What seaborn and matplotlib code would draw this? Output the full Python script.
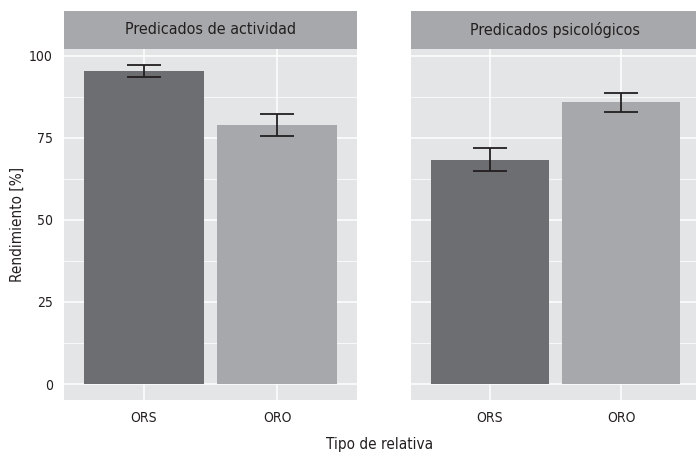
import numpy as np
import pandas as pd
import matplotlib
matplotlib.use("Agg")
import matplotlib.pyplot as plt
import seaborn as sns
from matplotlib.patches import Rectangle
from matplotlib import font_manager

panels = ["Predicados de actividad", "Predicados psicológicos"]
categories = ["ORS", "ORO"]
means_actividad = [95.3, 78.8]
low_actividad = [93.4, 75.5]
high_actividad = [97.2, 82.3]
means_psico = [68.4, 85.9]
low_psico = [64.8, 83.0]
high_psico = [72.0, 88.8]
y_ticks = [0, 25, 50, 75, 100]

bar_colors = ["#6d6e71", "#a7a8ab"]
panel_bg = "#e4e5e6"
strip_bg = "#a7a8ab"
ink = "#231f20"

sns.set_theme(style="darkgrid")

# look for a condensed face (the original uses a narrow font)
cands = [f for f in font_manager.fontManager.ttflist
         if ("narrow" in f.name.lower() or "condensed" in f.name.lower()
             or f.stretch in ("condensed", "semi-condensed", "extra-condensed"))
         and f.style == "normal" and f.weight in (400, "normal", "regular")]
stretch = "normal"
if cands:
    fam = cands[0].name
    stretch = cands[0].stretch
else:
    fam = "DejaVu Sans"
plt.rcParams["font.family"] = [fam, "DejaVu Sans"]
plt.rcParams["font.stretch"] = stretch
fp = dict(family=[fam, "DejaVu Sans"], stretch=stretch)

fig = plt.figure(figsize=(6.96, 4.57), dpi=100)
ax_pos = [[64 / 696, 1 - 400 / 457, 293 / 696, 351 / 457],
          [411 / 696, 1 - 400 / 457, 289 / 696, 351 / 457]]
strip_h = 38 / 351

data = [(means_actividad, low_actividad, high_actividad),
        (means_psico, low_psico, high_psico)]

for i, (title, (m, lo, hi)) in enumerate(zip(panels, data)):
    ax = fig.add_axes(ax_pos[i])
    df = pd.DataFrame({"tipo": categories, "valor": m})
    sns.barplot(data=df, x="tipo", y="valor", hue="tipo", palette=bar_colors,
                order=categories, width=0.9, legend=False, ax=ax,
                saturation=1, linewidth=0, zorder=2)
    xs = np.arange(len(categories))
    m = np.array(m); lo = np.array(lo); hi = np.array(hi)
    ax.errorbar(xs, m, yerr=[m - lo, hi - m], fmt="none", ecolor=ink,
                elinewidth=1.3, capsize=12, capthick=1.3, zorder=3)
    ax.set_xlim(-0.6, 1.6)
    ax.set_ylim(-4.86, 102.06)
    ax.set_facecolor(panel_bg)
    ax.set_yticks(y_ticks)
    ax.set_yticks([12.5, 37.5, 62.5, 87.5], minor=True)
    ax.grid(True, which="major", color="white", linewidth=1.1, zorder=0)
    ax.grid(True, which="minor", axis="y", color="white", linewidth=0.55, zorder=0)
    ax.set_axisbelow(True)
    for s in ax.spines.values():
        s.set_visible(False)
    ax.tick_params(axis="both", which="major", length=4, width=0.8,
                   color=ink, labelsize=10, labelcolor=ink, pad=4)
    ax.tick_params(axis="both", which="minor", length=0)
    for lab in ax.get_xticklabels() + ax.get_yticklabels():
        lab.set_family(fp["family"])
        lab.set_stretch(stretch)
    ax.set_xlabel("")
    if i == 0:
        ax.set_ylabel("Rendimiento [%]", fontsize=11, color=ink, **fp)
        ax.yaxis.set_label_coords(-0.135, 0.5)
    else:
        ax.set_ylabel("")
        ax.tick_params(axis="y", which="both", length=0, labelleft=False)
    ax.add_patch(Rectangle((0, 1), 1, strip_h, transform=ax.transAxes,
                           facecolor=strip_bg, edgecolor="none", clip_on=False))
    ax.text(0.5, 1 + strip_h / 2, title, transform=ax.transAxes, ha="center",
            va="center", fontsize=11.5, color=ink, **fp)

fig.text(380 / 696, 1 - 444 / 457, "Tipo de relativa", ha="center",
         va="center", fontsize=11, color=ink, **fp)

fig.savefig("out.png", dpi=100)
